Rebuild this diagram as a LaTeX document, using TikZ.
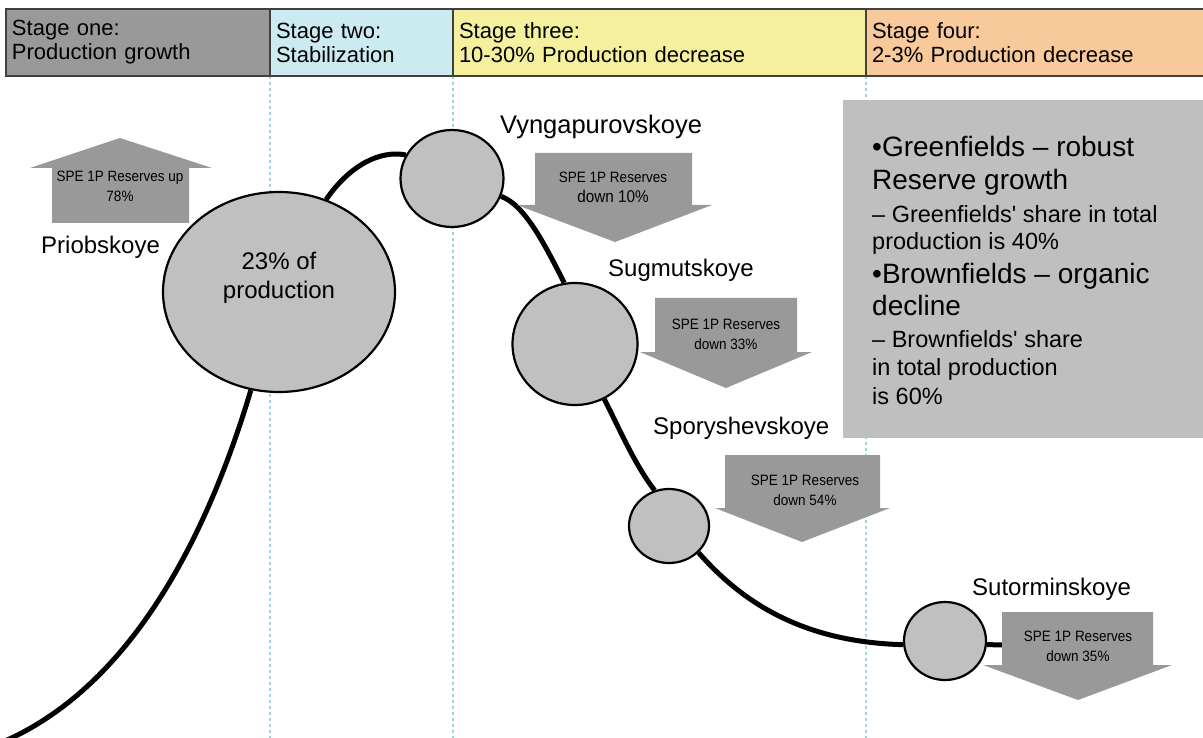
\documentclass[tikz,border=0pt]{standalone}
\usepackage{fontspec}
\setmainfont{Liberation Sans}
\newfontfamily\narrowfont[FakeStretch=0.9]{Liberation Sans}
\usetikzlibrary{shapes.geometric}
\pgfdeclarelayer{bg}
\pgfsetlayers{bg,main}
\definecolor{hdrone}{HTML}{999999}
\definecolor{hdrtwo}{HTML}{CCEBF0}
\definecolor{hdrthree}{HTML}{F4F09E}
\definecolor{hdrfour}{HTML}{F8C99A}
\definecolor{guide}{HTML}{A3D2DB}
\definecolor{arrowgray}{HTML}{999999}
\definecolor{boxgray}{HTML}{BFBFBF}
\definecolor{bubble}{HTML}{C0C0C0}
\definecolor{hdrline}{HTML}{404040}
\tikzset{
  hdr/.style={draw=hdrline, line width=1.2pt, anchor=north west, minimum height=67pt,
    outer sep=0pt, inner xsep=6pt, inner ysep=0pt, align=left, font=\fontsize{22}{24}\selectfont},
  guideline/.style={draw=guide, line width=2.6pt, dash pattern=on 2.6pt off 3.4pt},
  bubblestyle/.style={ellipse, draw=black, fill=bubble, line width=2.2pt, inner sep=0pt},
  prodline/.style={draw=black, line width=5pt},
  arrowfill/.style={fill=arrowgray},
  arrowtext/.style={align=center, inner sep=0pt, font=\narrowfont\fontsize{15}{20}\selectfont},
  lbl/.style={anchor=west, inner sep=0pt, font=\fontsize{24}{28}\selectfont},
  bigline/.style={anchor=base west, inner sep=0pt, font=\fontsize{28}{32}\selectfont},
  smallline/.style={anchor=base west, inner sep=0pt, font=\fontsize{23.5}{27}\selectfont}
}
\begin{document}
\begin{tikzpicture}[x=1pt,y=-1pt]
\useasboundingbox (0,0) rectangle (1203,738);
\begin{pgfonlayer}{bg}
  \fill[white] (0,0) rectangle (1203,738);
\end{pgfonlayer}

% header
\node[hdr, fill=hdrone, text width=252pt] (s1) at (6,9) {Stage one:\\Production growth};
\node[hdr, fill=hdrtwo, text width=171pt] (s2) at (s1.north east) {Stage two:\\Stabilization};
\node[hdr, fill=hdrthree, text width=401pt] (s3) at (s2.north east) {Stage three:\\10-30\% Production decrease};
\node[hdr, fill=hdrfour, text width=327pt] (s4) at (s3.north east) {Stage four:\\2-3\% Production decrease};

% dotted guides
\begin{pgfonlayer}{bg}
  \draw[guideline] (s2.south west) -- ++(0,662);
  \draw[guideline] (s3.south west) -- ++(0,662);
  \draw[guideline] (s4.south west) -- ++(0,662);
\end{pgfonlayer}

% text box
\node[fill=boxgray, anchor=north west, minimum width=362pt, minimum height=338pt, inner sep=0pt] (tbox) at (843,100) {};
\node[bigline] (t1) at (872,157) {•Greenfields – robust};
\node[bigline] (t2) at (872,190) {Reserve growth};
\node[smallline] (t3) at (872,222.5) {– Greenfields\textquotesingle\ share in total};
\node[smallline] (t4) at (872,249.5) {production is 40\%};
\node[bigline] (t5) at (872,284) {•Brownfields – organic};
\node[bigline] (t6) at (872,316) {decline};
\node[smallline] (t7) at (872,347.5) {– Brownfields\textquotesingle\ share};
\node[smallline] (t8) at (872,375.5) {in total production};
\node[smallline] (t9) at (872,404.5) {is 60\%};

% bubbles
\node[bubblestyle, minimum width=232pt, minimum height=200pt] (prio) at (279,292) {};
\node[align=center, inner sep=0pt, font=\fontsize{24}{29}\selectfont] (priotext) at (279,277.5) {23\% of\\production};
\node[bubblestyle, minimum width=103pt, minimum height=97pt] (vyng) at (452,178.5) {};
\node[bubblestyle, minimum width=125pt, minimum height=122pt] (sug) at (575,344) {};
\node[bubblestyle, minimum width=80pt, minimum height=74pt] (spor) at (669,526) {};
\node[bubblestyle, minimum width=82pt, minimum height=78pt] (sut) at (945,641) {};

\coordinate (start) at (5,741);
\coordinate (sutend) at (1012,645);

\begin{pgfonlayer}{bg}
  \draw[prodline] (start) .. controls (120,690) and (200,560) .. (prio.-106);
  \draw[prodline] (prio.63) .. controls (350,165) and (380,150) .. (vyng.153);
  \draw[prodline] (vyng.-20) .. controls (525,205) and (545,245) .. (sug.100);
  \draw[prodline] (sug.-62) .. controls (620,430) and (635,465) .. (spor.112);
  \draw[prodline] (spor.-42) .. controls (740,600) and (800,642) .. (sut.185);
  \draw[prodline] (sut.-5) -- (sutend);
\end{pgfonlayer}

% labels
\node[lbl] (priolbl) at (41,247) {Priobskoye};
\node[lbl, font=\fontsize{25.5}{28}\selectfont] (vynglbl) at (500,127) {Vyngapurovskoye};
\node[lbl] (suglbl) at (608,270) {Sugmutskoye};
\node[lbl] (sporlbl) at (653,428) {Sporyshevskoye};
\node[lbl] (sutlbl) at (972,589) {Sutorminskoye};

% reserve arrows
\fill[arrowfill] (52,223) -- (52,168) -- (30,168) -- (120,138) -- (212,168) -- (189,168) -- (189,223) -- cycle;
\node[arrowtext] (upt) at (120,186) {SPE 1P Reserves up\\78\%};

\fill[arrowfill] (535,153) -- (692,153) -- (692,205) -- (712,205) -- (615,242) -- (517,205) -- (535,205) -- cycle;
\node[arrowtext] (d1t) at (613,187.5) {SPE 1P Reserves\\{\fontsize{17}{20}\selectfont down 10\%}};

\fill[arrowfill] (655,298) -- (797,298) -- (797,352) -- (812,352) -- (726,388) -- (640,352) -- (655,352) -- cycle;
\node[arrowtext] (d2t) at (726,334.5) {SPE 1P Reserves\\down 33\%};

\fill[arrowfill] (725,455) -- (880,455) -- (880,508) -- (890,508) -- (802,542) -- (715,508) -- (725,508) -- cycle;
\node[arrowtext] (d3t) at (805,490.5) {SPE 1P Reserves\\down 54\%};

\fill[arrowfill] (1002,612) -- (1153,612) -- (1153,665) -- (1172,665) -- (1078,700) -- (983,665) -- (1002,665) -- cycle;
\node[arrowtext] (d4t) at (1078,646) {SPE 1P Reserves\\down 35\%};
\end{tikzpicture}
\end{document}
